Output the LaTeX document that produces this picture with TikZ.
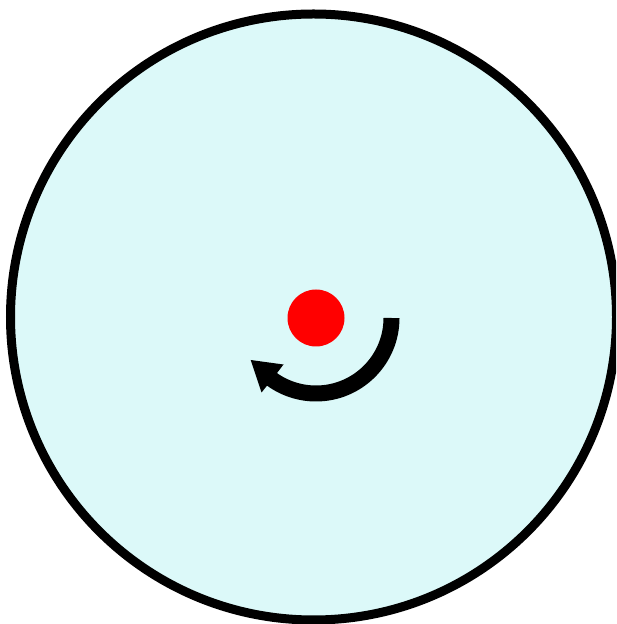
\documentclass[tikz,border=0pt]{standalone}
\definecolor{discfill}{RGB}{220,249,249}
\definecolor{dotred}{RGB}{255,0,0}
\tikzset{
  disc/.style={line width=9pt, draw=black, fill=discfill},
  dotstyle/.style={fill=dotred},
  arcstyle/.style={line width=16pt, draw=black, line cap=butt},
  headstyle/.style={fill=black}
}
\begin{document}
\begin{tikzpicture}[x=1pt,y=1pt]
\useasboundingbox (0,0) rectangle (616,624);
\clip (0,0) rectangle (616,624);
% disc
\path[disc] (313.5,307) circle[radius=303pt];
% red dot
\path[dotstyle] (316,306) circle[radius=28.5pt];
% rotation arrow
\draw[arcstyle] (391.5,306) arc[start angle=0, end angle=-128, radius=75.5pt];
\path[headstyle] (250.7,264) -- (283.5,259.5) -- (274,247) -- (261.5,231.5) -- cycle;
\end{tikzpicture}
\end{document}
